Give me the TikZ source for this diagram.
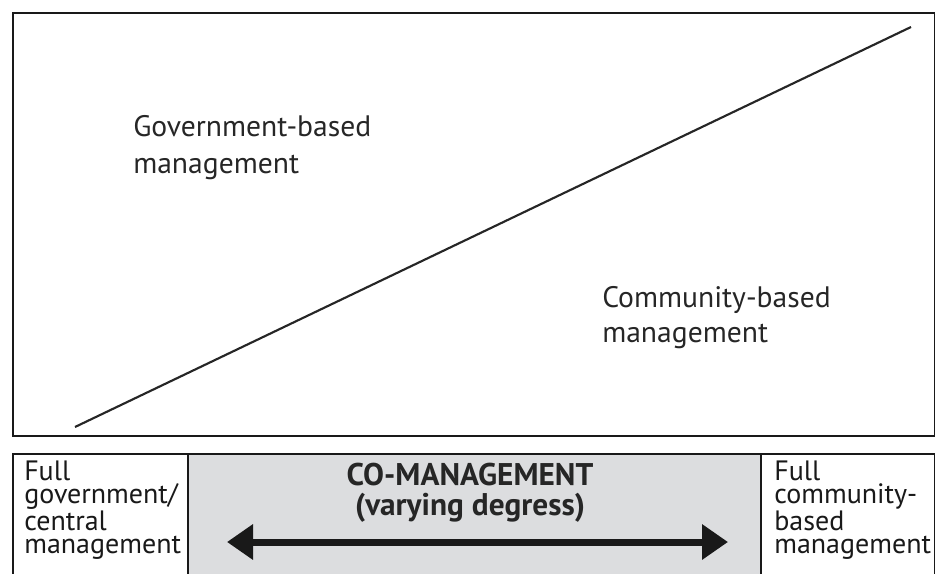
\documentclass[tikz,border=0pt]{standalone}
\usepackage{fontspec}
\setmainfont{PT Sans}
\usetikzlibrary{arrows.meta}
\definecolor{cogray}{RGB}{220,221,223}
\tikzset{
  frame/.style={draw=black!90, line width=1.6pt},
  lbl/.style={anchor=base west, inner sep=0pt, font=\fontsize{22.2pt}{26pt}\selectfont, text=black!85},
  sidelbl/.style={anchor=north west, inner sep=0pt, align=left, font=\fontsize{21pt}{17.1pt}\selectfont, text=black!90},
  boldlbl/.style={anchor=base, inner sep=0pt, font=\fontsize{23.5pt}{27pt}\selectfont\bfseries, text=black!85},
  bigarrow/.style={line width=5.25pt, black!90, {Triangle[length=19.5pt,width=25.5pt]}-{Triangle[length=19.5pt,width=25.5pt]}},
  diag/.style={line width=1.6pt, black!85}
}
\begin{document}
\begin{tikzpicture}[x=0.75pt,y=-0.75pt]
\clip (0,0) rectangle (935,574);
\useasboundingbox (0,0) rectangle (935,574);
% top panel
\node[frame, inner sep=0pt, minimum width=922.5*0.75pt, minimum height=423*0.75pt, anchor=north west] (top) at (11.5,12) {};
\coordinate (d1) at (75,427);
\coordinate (d2) at (911,27);
\draw[diag] (d1) -- (d2);
\node[lbl] (gov1) at (133,137) {Government-based};
\node[lbl] (gov2) at (133,174) {management};
\node[lbl] (com1) at (602,307) {Community-based};
\node[lbl] (com2) at (602,342) {management};
% bottom panel
\node[frame, fill=white, inner sep=0pt, minimum width=922.5*0.75pt, minimum height=140*0.75pt, anchor=north west] (bot) at (11.5,453) {};
\node[draw=black!90, line width=1.6pt, fill=cogray, inner sep=0pt, minimum width=573*0.75pt, minimum height=140*0.75pt, anchor=north west] (co) at (187,453) {};
\node[sidelbl] (left) at (24,461) {Full\\government/\\central\\management};
\node[sidelbl] (right) at (774,461) {Full\\community-\\based\\management};
\node[boldlbl] (cm1) at (470,485) {CO-MANAGEMENT};
\node[boldlbl] (cm2) at (470,515) {(varying degress)};
\coordinate (a1) at (227,542);
\coordinate (a2) at (728,542);
\draw[bigarrow] (a1) -- (a2);
\end{tikzpicture}
\end{document}
